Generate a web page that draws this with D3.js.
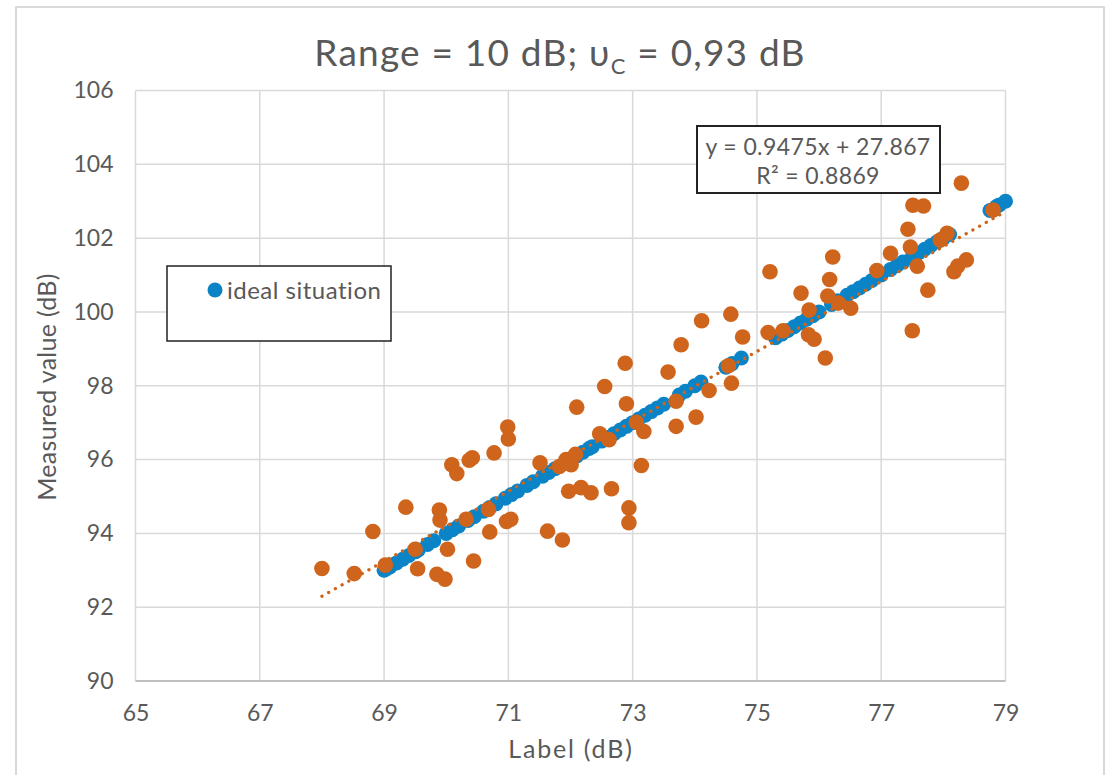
<!DOCTYPE html>
<html>
<head>
<meta charset="utf-8">
<script src="https://cdn.jsdelivr.net/npm/d3@7"></script>
<style>
  body { margin: 0; background: #fff; }
  svg text { font-family: "Lato", "Open Sans", sans-serif; fill: #595959; }
</style>
</head>
<body>
<div id="area"></div>
<script>
// ideal situation (blue)
var idealX = [69.0, 69.05, 69.1, 69.2, 69.3, 69.4, 69.5, 69.55, 69.7, 69.8, 70.0, 70.1, 70.2, 70.35, 70.45,
  70.6, 70.7, 70.8, 70.95, 71.05, 71.15, 71.3, 71.4, 71.55, 71.65, 71.75, 71.9, 72.0, 72.1, 72.2, 72.3,
  72.35, 72.5, 72.6, 72.7, 72.8, 72.9, 73.0, 73.1, 73.2, 73.3, 73.4, 73.5, 73.75, 73.85, 74.0, 74.1,
  74.5, 74.6, 74.75, 75.3, 75.4, 75.5, 75.6, 75.7, 75.8, 75.9, 76.0, 76.2, 76.3, 76.45, 76.55, 76.65,
  76.75, 76.85, 77.0, 77.15, 77.25, 77.35, 77.5, 77.6, 77.7, 77.8, 77.9, 78.0, 78.1, 78.75, 78.85, 78.9, 79.0];
var idealY = [93.0, 93.05, 93.1, 93.2, 93.3, 93.4, 93.5, 93.55, 93.7, 93.8, 94.0, 94.1, 94.2, 94.35, 94.45,
  94.6, 94.7, 94.8, 94.95, 95.05, 95.15, 95.3, 95.4, 95.55, 95.65, 95.75, 95.9, 96.0, 96.1, 96.2, 96.3,
  96.35, 96.5, 96.6, 96.7, 96.8, 96.9, 97.0, 97.1, 97.2, 97.3, 97.4, 97.5, 97.75, 97.85, 98.0, 98.1,
  98.5, 98.6, 98.75, 99.3, 99.4, 99.5, 99.6, 99.7, 99.8, 99.9, 100.0, 100.2, 100.3, 100.45, 100.55, 100.65,
  100.75, 100.85, 101.0, 101.15, 101.25, 101.35, 101.5, 101.6, 101.7, 101.8, 101.9, 102.0, 102.1, 102.75, 102.85, 102.9, 103.0];

// measured (orange)
var measX = [68.00, 68.52, 68.82, 69.02, 69.35, 69.54, 69.50, 69.89, 69.90, 69.85, 69.98, 70.02, 70.09, 70.17,
  70.32, 70.37, 70.42, 70.44, 70.68, 70.70, 70.77, 70.99, 71.00, 70.97, 71.04, 71.51, 71.63, 71.87, 72.10,
  71.97, 72.17, 72.33, 71.82, 72.01, 72.08, 71.93, 72.55, 72.47, 72.62, 72.66, 72.88, 72.90, 72.94, 72.94,
  73.06, 73.18, 73.14, 73.57, 73.78, 73.70, 73.70, 74.02, 74.23, 74.54, 74.59, 74.77, 74.11, 74.58, 75.21,
  75.18, 75.42, 75.71, 75.84, 75.83, 75.92, 76.10, 76.22, 76.17, 76.14, 76.31, 76.51, 76.93, 77.15, 77.47,
  77.58, 77.50, 77.75, 78.29, 77.51, 77.68, 77.43, 78.06, 77.95, 78.17, 78.23, 78.37, 78.80];
var measY = [93.05, 92.91, 94.05, 93.14, 94.71, 93.04, 93.57, 94.63, 94.36, 92.89, 92.76, 93.57, 95.86, 95.62,
  94.38, 95.98, 96.05, 93.25, 94.65, 94.04, 96.18, 96.88, 96.56, 94.32, 94.38, 95.91, 94.06, 93.82, 97.42,
  95.14, 95.24, 95.10, 95.81, 95.86, 96.14, 96.00, 97.98, 96.70, 96.54, 95.21, 98.61, 97.51, 94.69, 94.29,
  97.01, 96.76, 95.84, 98.37, 99.11, 97.58, 96.90, 97.15, 97.87, 98.54, 98.07, 99.32, 99.76, 99.94, 101.09,
  99.44, 99.49, 100.51, 100.05, 99.38, 99.26, 98.75, 101.49, 100.88, 100.43, 100.24, 100.10, 101.12, 101.59, 101.76,
  101.24, 99.49, 100.59, 103.49, 102.89, 102.87, 102.24, 102.13, 101.95, 101.09, 101.24, 101.41, 102.76];

// linear trendline of the measured series
var trendSlope = 0.9475, trendIntercept = 27.867;
var trendRange = [68, 79];

var xTicks = [65, 67, 69, 71, 73, 75, 77, 79];
var yTicks = [90, 92, 94, 96, 98, 100, 102, 104, 106];

(function () {
  var width = 1109, height = 775;
  var pLeft = 135.5, pRight = 1005.5, pTop = 90.5, pBottom = 681;
  var blue = "#0A84C6", orange = "#CF651D";

  var svg = d3.select("#area").append("svg")
    .attr("width", width).attr("height", height);

  // chart border
  svg.append("rect").attr("x", 16).attr("y", 7).attr("width", 1088).attr("height", 780)
    .attr("fill", "#fff").attr("stroke", "#d9d9d9").attr("stroke-width", 2);

  var x = d3.scaleLinear().domain([65, 79]).range([pLeft, pRight]);
  var y = d3.scaleLinear().domain([90, 106]).range([pBottom, pTop]);

  // gridlines
  svg.append("g").selectAll("line").data(xTicks).enter().append("line")
    .attr("x1", d => x(d)).attr("x2", d => x(d)).attr("y1", pTop).attr("y2", pBottom)
    .attr("stroke", "#d9d9d9").attr("stroke-width", 1.5);
  svg.append("g").selectAll("line").data(yTicks).enter().append("line")
    .attr("x1", pLeft).attr("x2", pRight).attr("y1", d => y(d)).attr("y2", d => y(d))
    .attr("stroke", d => d == 90 ? "#bfbfbf" : "#d9d9d9").attr("stroke-width", d => d == 90 ? 2 : 1.5);

  // tick labels
  var xAxis = svg.append("g").attr("transform", "translate(0," + pBottom + ")")
    .call(d3.axisBottom(x).tickValues(xTicks).tickSize(0).tickPadding(24));
  var yAxis = svg.append("g").attr("transform", "translate(" + pLeft + ",0)")
    .call(d3.axisLeft(y).tickValues(yTicks).tickSize(0).tickPadding(22));
  [xAxis, yAxis].forEach(function (a) {
    a.select(".domain").remove();
    a.selectAll("text").attr("font-size", 23).style("fill", "#595959")
      .attr("font-family", "Lato, sans-serif");
  });

  // ideal series
  svg.append("g").selectAll("circle").data(idealX).enter().append("circle")
    .attr("cx", d => x(d)).attr("cy", (d, i) => y(idealY[i])).attr("r", 7.5)
    .attr("fill", blue);

  // measured series
  svg.append("g").selectAll("circle").data(measX).enter().append("circle")
    .attr("cx", d => x(d)).attr("cy", (d, i) => y(measY[i])).attr("r", 7.8)
    .attr("fill", orange);

  // trendline
  svg.append("line")
    .attr("x1", x(trendRange[0])).attr("y1", y(trendSlope * trendRange[0] + trendIntercept))
    .attr("x2", x(trendRange[1])).attr("y2", y(trendSlope * trendRange[1] + trendIntercept))
    .attr("stroke", orange).attr("stroke-width", 3.3)
    .attr("stroke-linecap", "round").attr("stroke-dasharray", "0.1 7.6");

  // title
  var title = svg.append("text").attr("x", 560).attr("y", 66).attr("text-anchor", "middle")
    .attr("font-size", 37).attr("letter-spacing", 1.2);
  title.append("tspan").text("Range = 10 dB; υ");
  title.append("tspan").attr("font-size", 22).attr("dy", 8).text("C");
  title.append("tspan").attr("dy", -8).text(" = 0,93 dB");

  // axis titles
  svg.append("text").attr("x", 571).attr("y", 758).attr("text-anchor", "middle")
    .attr("font-size", 25).attr("letter-spacing", 1.8).text("Label (dB)");
  svg.append("text").attr("transform", "translate(56,387) rotate(-90)").attr("text-anchor", "middle")
    .attr("font-size", 25).attr("letter-spacing", 0.3).text("Measured value (dB)");

  // legend
  svg.append("rect").attr("x", 167).attr("y", 266).attr("width", 224).attr("height", 75)
    .attr("fill", "#fff").attr("stroke", "#222").attr("stroke-width", 1.5);
  svg.append("circle").attr("cx", 215).attr("cy", 290).attr("r", 7.5).attr("fill", blue);
  svg.append("text").attr("x", 227).attr("y", 299).attr("font-size", 24).attr("letter-spacing", 0.5)
    .text("ideal situation");

  // trendline label
  svg.append("rect").attr("x", 697).attr("y", 126).attr("width", 243).attr("height", 67)
    .attr("fill", "#fff").attr("stroke", "#222").attr("stroke-width", 2);
  svg.append("text").attr("x", 818).attr("y", 155).attr("text-anchor", "middle")
    .attr("font-size", 23).attr("letter-spacing", 0.4).text("y = 0.9475x + 27.867");
  svg.append("text").attr("x", 818).attr("y", 184).attr("text-anchor", "middle")
    .attr("font-size", 23).attr("letter-spacing", 0.4).text("R² = 0.8869");
})();
</script>
</body>
</html>
